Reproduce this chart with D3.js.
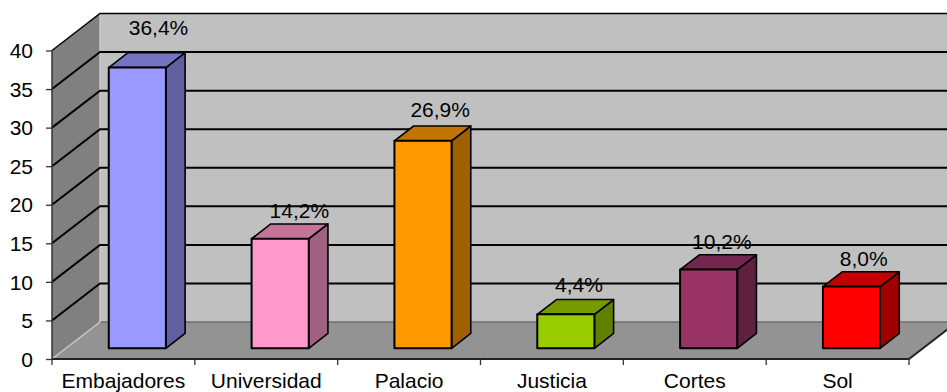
<!DOCTYPE html>
<html><head><meta charset="utf-8">
<style>html,body{margin:0;padding:0;background:#fff}svg{display:block}text{font-family:"Liberation Sans",Arial,sans-serif;fill:#000}</style>
<script src="https://cdn.jsdelivr.net/npm/d3@7"></script></head><body>
<script>
const categories=["Embajadores","Universidad","Palacio","Justicia","Cortes","Sol"];
const values=[36.4,14.2,26.9,4.4,10.2,8.0];
const valueLabels=["36,4%","14,2%","26,9%","4,4%","10,2%","8,0%"];
const barColors=["#9999ff","#ff99cc","#ff9900","#99cc00","#993366","#ff0000"];
const yTicks=[0,5,10,15,20,25,30,35,40];
const W=947,H=392,dx=48,dy=37,fs=21;
const svg=d3.select("body").append("svg").attr("width",W).attr("height",H);
const x=d3.scaleBand().domain(categories).range([52,909]).paddingInner(.6).paddingOuter(.3);
const y=d3.scaleLinear().domain([0,40]).range([359,50.5]);
const baseY=y(0);
const pt=(px,v,d)=>[px+dx*d,y(v)-dy*d];
const line=d3.line();
const poly=(pts,fill,stroke,sw)=>svg.append("path").attr("d",line(pts)+"Z").attr("fill",fill).attr("stroke",stroke||"none").attr("stroke-width",sw||0).attr("stroke-linejoin","round");
const seg=(pts,stroke,sw)=>svg.append("path").attr("d",line(pts)).attr("fill","none").attr("stroke",stroke).attr("stroke-width",sw);
const x0=52,x1=909;
// walls and floor
poly([pt(x0,0,1),pt(x1,0,1),pt(x1,40,1),pt(x0,40,1)],"#c0c0c0");
poly([pt(x0,0,0),pt(x0,40,0),pt(x0,40,1),pt(x0,0,1)],"#808080");
poly([pt(x0,0,0),pt(x1,0,0),pt(x1,0,1),pt(x0,0,1)],"#939393");
seg([pt(x0,0,1),pt(x1,0,1)],"#6e6e6e",1.5);
seg([pt(x0,0,0),pt(x0,0,1),pt(x0,40,1)],"#c8c8c8",1.5);
// gridlines
yTicks.filter(v=>v>0).forEach(v=>{
  seg([pt(x0,v,0),pt(x0,v,1),pt(x1,v,1)],"#000",v===40?1.5:2);
});
seg([pt(x0,0,0),pt(x0,40,0)],"#333",1.5);
seg([pt(x0,0,0),pt(x1,0,0),pt(x1,0,1)],"#222",2);
// bars
const d0=.29,d1=.69,bw=x.bandwidth();
categories.forEach((c,i)=>{
  const col=d3.color(barColors[i]),a=x(c),b=a+bw,v=values[i];
  const side=d3.rgb(col.r*.63,col.g*.63,col.b*.63).formatHex();
  const top=d3.rgb(col.r*.76,col.g*.76,col.b*.76).formatHex();
  poly([pt(b,0,d0),pt(b,0,d1),pt(b,v,d1),pt(b,v,d0)],side,"#000",1.6);
  poly([pt(a,v,d0),pt(b,v,d0),pt(b,v,d1),pt(a,v,d1)],top,"#000",1.6);
  poly([pt(a,0,d0),pt(b,0,d0),pt(b,v,d0),pt(a,v,d0)],barColors[i],"#000",2);
});
// axes
const yAxis=d3.axisLeft(y).tickValues(yTicks).tickSize(6).tickPadding(13);
const ga=svg.append("g").attr("transform",`translate(${x0},0)`).call(yAxis);
ga.select(".domain").remove();
ga.selectAll("line").attr("stroke","#333").attr("stroke-width",1.3);
ga.selectAll("text").attr("font-size",fs).style("font-family",'"Liberation Sans"').attr("dy","0.34em");
const xAxis=d3.axisBottom(x).tickSize(0).tickPadding(14);
const gx=svg.append("g").attr("transform",`translate(0,${baseY})`).call(xAxis);
gx.select(".domain").remove();
gx.selectAll("text").attr("font-size",fs).style("font-family",'"Liberation Sans"');
const step=x.step();
d3.range(categories.length+1).forEach(i=>{
  const px=x0+step*i;
  seg([[px,baseY],[px,baseY+6]],"#333",1.3);
});
// value labels
const labelRise=[18,6,9,8,6,6];
const labelShift=[2,0,-2,-6,-6,-7];
categories.forEach((c,i)=>{
  const p=pt(x(c)+bw/2,values[i],d1);
  svg.append("text").attr("x",p[0]+labelShift[i]).attr("y",p[1]-labelRise[i]).attr("text-anchor","middle").attr("font-size",fs).text(valueLabels[i]);
});
</script></body></html>
